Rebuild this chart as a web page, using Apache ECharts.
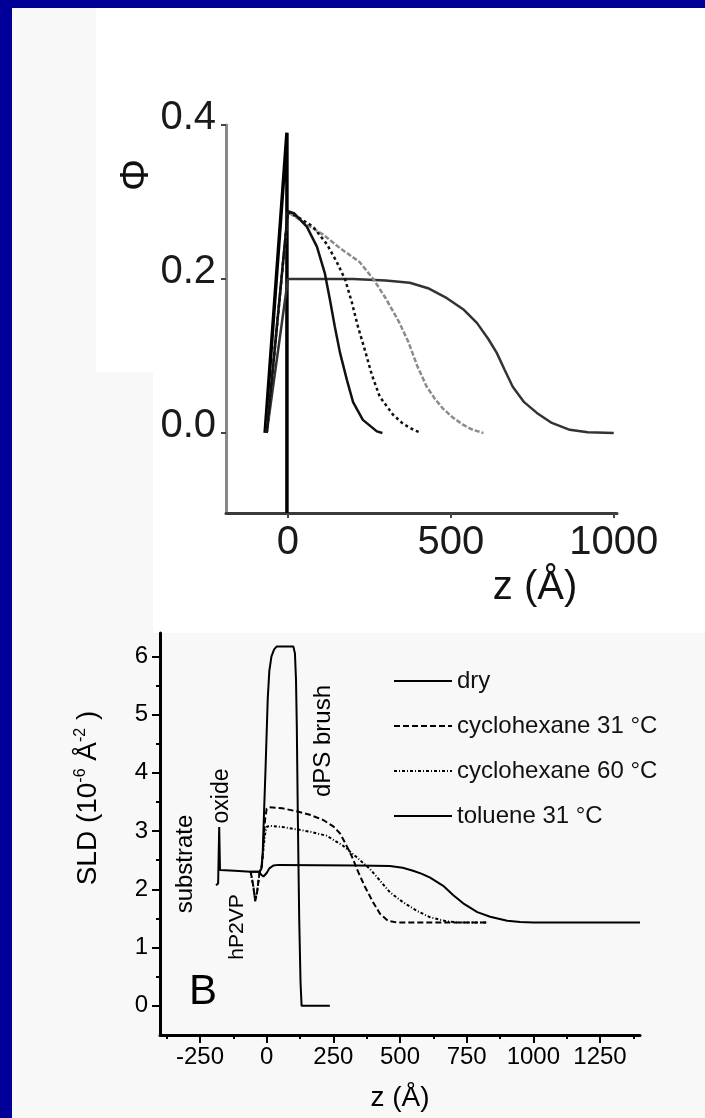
<!DOCTYPE html>
<html><head><meta charset="utf-8">
<script src="https://cdn.jsdelivr.net/npm/echarts@6/dist/echarts.min.js"></script>
<style>html,body{margin:0;padding:0;background:#000099;}#c{width:705px;height:1118px;}</style>
</head><body><div id="c"></div>
<script>
// ---------- top panel (volume fraction) ----------
const topXTicks = [0, 500, 1000];
const topYTicks = [0, 0.2, 0.4];
const spikeZ   = [-70, -3, -3];
const spikePhi = [0, 0.39, -0.104];
const aZ   = [-65, 0, 20, 58, 89, 113, 129, 144, 160, 181, 200, 230, 273, 290];
const aPhi = [0, 0.288, 0.285, 0.268, 0.242, 0.208, 0.173, 0.138, 0.104, 0.069, 0.04, 0.017, 0.002, 0];
const bZ   = [-65, 0, 40, 77, 120, 150, 175, 196, 215, 236, 258, 282, 322, 353, 390, 410];
const bPhi = [0, 0.287, 0.278, 0.268, 0.245, 0.222, 0.2, 0.17, 0.138, 0.108, 0.075, 0.047, 0.024, 0.012, 0.003, 0];
const cZ   = [-65, 0, 60, 107, 160, 220, 262, 300, 340, 370, 396, 426, 450, 475, 506, 540, 568, 600];
const cPhi = [0, 0.287, 0.27, 0.258, 0.24, 0.222, 0.2, 0.175, 0.145, 0.118, 0.088, 0.06, 0.045, 0.032, 0.02, 0.01, 0.004, 0];
const dZ   = [-65, 0, 100, 200, 300, 374, 430, 488, 540, 580, 615, 641, 665, 690, 725, 764, 810, 865, 920, 1000];
const dPhi = [0, 0.2, 0.2, 0.2, 0.198, 0.195, 0.188, 0.175, 0.16, 0.143, 0.122, 0.104, 0.082, 0.06, 0.04, 0.026, 0.013, 0.004, 0.001, 0];

// ---------- bottom panel (SLD) ----------
const botXMajor = [-250, 0, 250, 500, 750, 1000, 1250];
const botXMinor = [-375, -125, 125, 375, 625, 875, 1125, 1375];
const botYMajor = [0, 1, 2, 3, 4, 5, 6];
const botYMinor = [0.5, 1.5, 2.5, 3.5, 4.5, 5.5];
const legendNames = ['dry', 'cyclohexane 31 °C', 'cyclohexane 60 °C', 'toluene 31 °C'];
const dryZ   = [-190, -182, -178, -175, -120, -60, -28, -20, -15, -10, -4, 4, 10, 18, 28, 38, 100, 106, 110, 113, 117, 122, 127, 131, 237];
const drySLD = [2.07, 2.1, 3.07, 2.33, 2.32, 2.3, 2.3, 2.35, 2.6, 3.3, 4.1, 5.27, 5.75, 6.0, 6.12, 6.17, 6.17, 6.05, 5.6, 4.8, 3.2, 1.5, 0.4, 0, 0];
const c31Z   = [-60, -50, -43, -36, -28, -18, -12, -6, 0, 10, 60, 112, 162, 212, 250, 275, 293, 319, 344, 369, 399, 425, 455, 490, 830];
const c31SLD = [2.3, 2.05, 1.8, 1.95, 2.25, 2.4, 2.8, 3.2, 3.38, 3.41, 3.39, 3.34, 3.28, 3.19, 3.08, 2.96, 2.81, 2.57, 2.29, 2.04, 1.78, 1.58, 1.46, 1.43, 1.43];
const c60Z   = [-60, -50, -43, -36, -28, -18, -12, -6, 0, 10, 60, 112, 162, 225, 286, 338, 387, 425, 462, 511, 564, 613, 677, 720, 830];
const c60SLD = [2.3, 2.05, 1.8, 1.95, 2.25, 2.4, 2.7, 2.95, 3.07, 3.09, 3.07, 3.03, 2.99, 2.92, 2.75, 2.55, 2.35, 2.15, 1.95, 1.78, 1.63, 1.52, 1.45, 1.43, 1.43];
const tolZ   = [-60, -30, -20, -12, 0, 10, 25, 45, 338, 462, 510, 549, 580, 613, 662, 700, 737, 790, 838, 902, 951, 1000, 1400];
const tolSLD = [2.3, 2.3, 2.25, 2.22, 2.28, 2.36, 2.41, 2.42, 2.41, 2.4, 2.37, 2.32, 2.27, 2.2, 2.06, 1.9, 1.76, 1.61, 1.53, 1.46, 1.44, 1.43, 1.43];

const F = 'Liberation Sans, Arial, sans-serif';
const zip = (a, b) => a.map((v, i) => [v, b[i]]);
const plain = v => String(v);

function line(name, xs, ys, xi, color, width, type) {
  return { name, type: 'line', xAxisIndex: xi, yAxisIndex: xi, data: zip(xs, ys),
    symbol: 'none', showSymbol: false, smooth: false, lineStyle: { color, width, type: type || 'solid' },
    itemStyle: { color }, silent: true };
}

const chart = echarts.init(document.getElementById('c'), null, { renderer: 'canvas' });
chart.setOption({
  animation: false,
  backgroundColor: '#000099',
  grid: [
    { left: 226, top: 125, width: 391, height: 388 },
    { left: 160, top: 633, width: 480, height: 402 }
  ],
  xAxis: [
    { gridIndex: 0, type: 'value', position: 'bottom', min: -190, max: 1010,
      axisLine: { show: true, onZero: false, lineStyle: { color: '#3a3a3a', width: 3 } },
      axisTick: { show: true, customValues: topXTicks, length: 5, lineStyle: { color: '#444', width: 2 } },
      axisLabel: { customValues: topXTicks, fontSize: 40, fontFamily: F, color: '#1a1a1a', margin: 10, formatter: plain },
      splitLine: { show: false } },
    { gridIndex: 1, type: 'value', position: 'bottom', min: -400, max: 1400,
      axisLine: { show: true, onZero: false, lineStyle: { color: '#000', width: 3 } },
      axisTick: { show: true, customValues: botXMajor, length: 8, lineStyle: { color: '#000', width: 2 } },
      axisLabel: { customValues: botXMajor, fontSize: 24, fontFamily: F, color: '#000', margin: 10, formatter: plain },
      splitLine: { show: false } },
    { gridIndex: 1, type: 'value', position: 'bottom', min: -400, max: 1400,
      axisLine: { show: false, onZero: false },
      axisTick: { show: true, customValues: botXMinor, length: 4, lineStyle: { color: '#000', width: 2 } },
      axisLabel: { show: false }, splitLine: { show: false } }
  ],
  yAxis: [
    { gridIndex: 0, type: 'value', position: 'left', min: -0.104, max: 0.4,
      axisLine: { show: true, onZero: false, lineStyle: { color: '#888', width: 3 } },
      axisTick: { show: true, customValues: topYTicks, length: 5, lineStyle: { color: '#444', width: 2 } },
      axisLabel: { customValues: topYTicks, fontSize: 40, fontFamily: F, color: '#1a1a1a', margin: 10,
        formatter: v => v.toFixed(1), verticalAlign: 'bottom', lineHeight: 14 },
      splitLine: { show: false } },
    { gridIndex: 1, type: 'value', position: 'left', min: -0.5, max: 6.4,
      axisLine: { show: true, onZero: false, lineStyle: { color: '#000', width: 3 } },
      axisTick: { show: true, customValues: botYMajor, length: 8, lineStyle: { color: '#000', width: 2 } },
      axisLabel: { customValues: botYMajor, fontSize: 24, fontFamily: F, color: '#000', margin: 12, formatter: plain },
      splitLine: { show: false } },
    { gridIndex: 1, type: 'value', position: 'left', min: -0.5, max: 6.4,
      axisLine: { show: false, onZero: false },
      axisTick: { show: true, customValues: botYMinor, length: 4, lineStyle: { color: '#000', width: 2 } },
      axisLabel: { show: false }, splitLine: { show: false } }
  ],
  legend: {
    data: legendNames, orient: 'vertical', left: 388, top: 664,
    itemWidth: 58, itemHeight: 14, itemGap: 21,
    itemStyle: { opacity: 0, color: 'transparent', borderColor: 'transparent', borderWidth: 0 },
    textStyle: { fontSize: 24, fontFamily: F, color: '#111' }
  },
  series: [
    line('spike', spikeZ, spikePhi, 0, '#000', 3.5),
    line('topD', dZ, dPhi, 0, '#333', 2.5),
    line('topC', cZ, cPhi, 0, '#8c8c8c', 2.5, [5, 2]),
    line('topB', bZ, bPhi, 0, '#111', 2.5, [3, 3]),
    line('topA', aZ, aPhi, 0, '#111', 2.5),
    line(legendNames[0], dryZ, drySLD, 1, '#000', 2),
    line(legendNames[1], c31Z, c31SLD, 1, '#000', 2, [6, 3]),
    line(legendNames[2], c60Z, c60SLD, 1, '#000', 2, [3, 2, 1, 2]),
    line(legendNames[3], tolZ, tolSLD, 1, '#000', 2)
  ],
  graphic: [
    { type: 'rect', z: -100, silent: true, shape: { x: 12, y: 8, width: 693, height: 1110 }, style: { fill: '#f8f8f8' } },
    { type: 'rect', z: -99, silent: true, shape: { x: 96, y: 8, width: 609, height: 364 }, style: { fill: '#ffffff' } },
    { type: 'rect', z: -99, silent: true, shape: { x: 153, y: 372, width: 552, height: 261 }, style: { fill: '#ffffff' } },
    { type: 'text', x: 137, y: 175, rotation: Math.PI / 2, style: { text: 'Φ', fontSize: 40, fontFamily: F, fill: '#111', align: 'center', verticalAlign: 'middle' } },
    { type: 'text', x: 535, y: 588, style: { text: 'z (Å)', fontSize: 40, fontFamily: F, fill: '#111', align: 'center', verticalAlign: 'middle' } },
    { type: 'text', x: 88, y: 798, rotation: Math.PI / 2, style: { text: 'SLD (10{s|-6} Å{s|-2} )', fontSize: 28, fontFamily: F, fill: '#000', align: 'center', verticalAlign: 'middle',
        rich: { s: { fontSize: 16, fontFamily: F, fill: '#000', verticalAlign: 'top', lineHeight: 30 } } } },
    { type: 'text', x: 400, y: 1098, style: { text: 'z (Å)', fontSize: 28, fontFamily: F, fill: '#000', align: 'center', verticalAlign: 'middle' } },
    { type: 'text', x: 185, y: 864, rotation: Math.PI / 2, style: { text: 'substrate', fontSize: 24, fontFamily: F, fill: '#000', align: 'center', verticalAlign: 'middle' } },
    { type: 'text', x: 222, y: 796, rotation: Math.PI / 2, style: { text: 'oxide', fontSize: 23, fontFamily: F, fill: '#000', align: 'center', verticalAlign: 'middle' } },
    { type: 'text', x: 237, y: 927, rotation: Math.PI / 2, style: { text: 'hP2VP', fontSize: 21, fontFamily: F, fill: '#000', align: 'center', verticalAlign: 'middle' } },
    { type: 'text', x: 323, y: 741, rotation: Math.PI / 2, style: { text: 'dPS brush', fontSize: 24, fontFamily: F, fill: '#000', align: 'center', verticalAlign: 'middle' } },
    { type: 'text', x: 203, y: 992, style: { text: 'B', fontSize: 42, fontFamily: F, fill: '#000', align: 'center', verticalAlign: 'middle' } }
  ]
});
</script></body></html>
